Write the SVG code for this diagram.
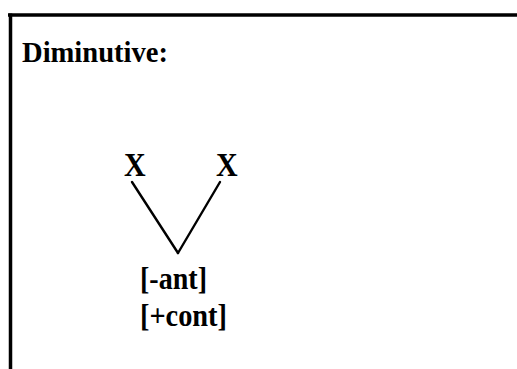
<svg xmlns="http://www.w3.org/2000/svg" width="517" height="369" viewBox="0 0 517 369">
<style>
text{font-family:"Liberation Serif","Times New Roman",serif;font-weight:bold;fill:#000}
.frame{stroke:#000;stroke-width:3.5;fill:none}
.conn{stroke:#000;stroke-width:2.4;fill:none;stroke-linecap:round}
</style>
<rect width="517" height="369" fill="#fff"/>
<g id="frame">
<line class="frame" x1="8" y1="15" x2="517" y2="15"/>
<line class="frame" x1="10.5" y1="13.5" x2="10.5" y2="369"/>
</g>
<g id="title"><text transform="translate(22,62) scale(1,1.1)" font-size="27" textLength="146" lengthAdjust="spacingAndGlyphs">Diminutive:</text></g>
<g id="x-left"><text transform="translate(124,176) scale(1,1.12)" font-size="30">X</text></g>
<g id="x-right"><text transform="translate(216,176) scale(1,1.12)" font-size="30">X</text></g>
<g id="features">
<text transform="translate(140,289) scale(1,1.15)" font-size="28" textLength="67" lengthAdjust="spacingAndGlyphs">[-ant]</text>
<text transform="translate(140,326) scale(1,1.15)" font-size="28" textLength="87" lengthAdjust="spacingAndGlyphs">[+cont]</text>
</g>
<g id="connectors">
<line class="conn" x1="132" y1="182" x2="178" y2="253"/>
<line class="conn" x1="220" y1="182" x2="178" y2="253"/>
</g>
</svg>
